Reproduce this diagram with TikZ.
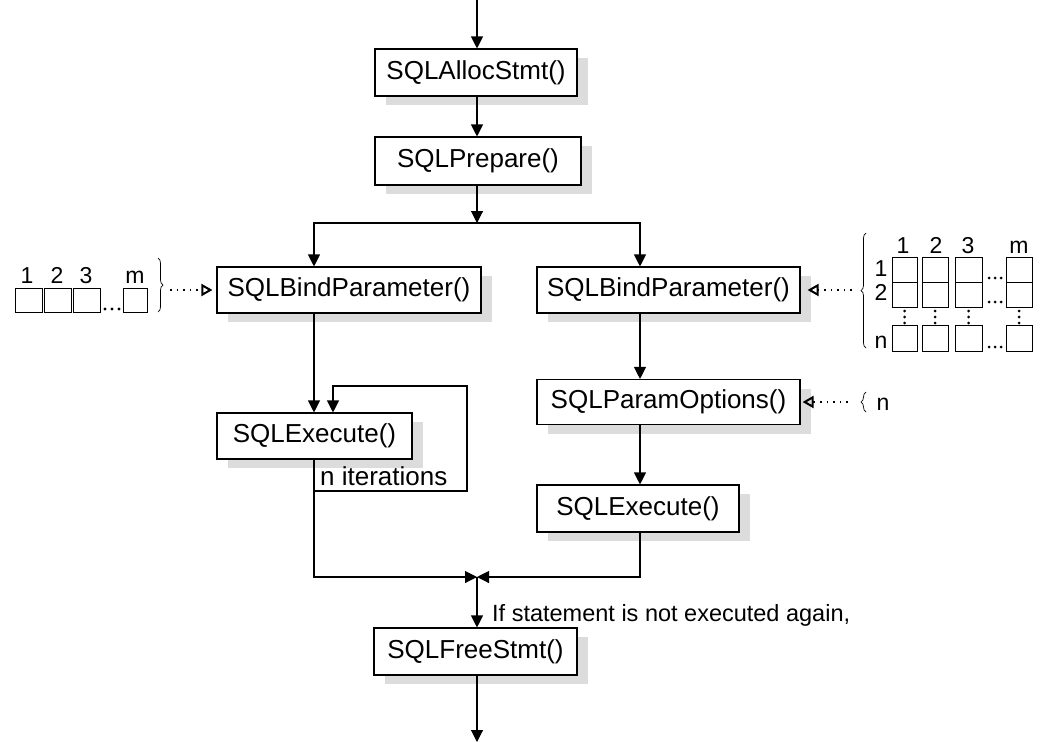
\documentclass[tikz,border=0pt]{standalone}
\usepackage{fontspec}
\setmainfont{Liberation Sans}
\usetikzlibrary{arrows.meta,shadows,decorations.pathreplacing}
\definecolor{shgray}{RGB}{220,220,220}
\newcommand\bigfs{\fontsize{26}{30}\selectfont}
\newcommand\midfs{\fontsize{23.5}{28}\selectfont}
\newcommand\smallfs{\fontsize{23}{27}\selectfont}
\begin{document}
\begin{tikzpicture}[x=1pt,y=1pt,
  box/.style={draw, line width=1.1pt, fill=white, inner sep=0pt, font=\bigfs,
    drop shadow={shadow xshift=11pt, shadow yshift=-9pt, opacity=1, fill=shgray}},
  arr/.style={line width=1.1pt, -{Triangle[length=12pt,width=12pt]}},
  darr/.style={line width=1.4pt, dash pattern=on 1.6pt off 5pt,
    -{Triangle[open,length=11pt,width=12pt,line width=2pt]}},
  cell/.style={draw, line width=0.8pt},
  lab/.style={font=\smallfs, inner sep=0pt, anchor=base},
  brc/.style={decorate, decoration={brace, amplitude=5pt}, line width=0.7pt},
  dot/.style={fill=black}
]
\useasboundingbox (0,0) rectangle (1045,-742);

% boxes
\node[box, minimum width=202pt, minimum height=47pt] (alloc) at (476,-72.5) {SQLAllocStmt()};
\node[box, minimum width=206pt, minimum height=48pt] (prep) at (478,-161) {SQLPrepare()};
\node[box, minimum width=264pt, minimum height=46pt] (bindL) at (349,-290) {SQLBindParameter()};
\node[box, minimum width=263pt, minimum height=46pt] (bindR) at (668.5,-290) {SQLBindParameter()};
\node[box, minimum width=195pt, minimum height=46pt] (execL) at (314.5,-436) {SQLExecute()};
\node[box, minimum width=263pt, minimum height=45pt] (param) at (668.5,-402) {SQLParamOptions()};
\node[box, minimum width=202pt, minimum height=47pt] (execR) at (638,-508.5) {SQLExecute()};
\node[box, minimum width=203pt, minimum height=47pt] (free) at (475.5,-651.5) {SQLFreeStmt()};

% coordinates
\coordinate (top) at (477,0);
\coordinate (split) at (477,-223);
\coordinate (colL) at (314,-223);
\coordinate (colR) at (640,-223);
\coordinate (loopA) at (314,-491);
\coordinate (loopB) at (467,-386);
\coordinate (loopC) at (333,-386);
\coordinate (merge) at (477,-577);
\coordinate (bottom) at (477,-742);

% main flow
\draw[arr] (top) -- (top |- alloc.north);
\draw[arr] (alloc.south -| top) -- (prep.north -| top);
\draw[arr] (prep.south -| top) -- (split);
\draw[arr] (split) -| (bindL.north -| colL);
\draw[arr] (split) -| (bindR.north -| colR);
\draw[arr] (bindL.south -| colL) -- (execL.north -| colL);
\draw[arr] (loopA) -| (loopB) -| (execL.north -| loopC);
\draw[arr] (execL.south -| colL) |- (merge);
\draw[arr] (bindR.south -| colR) -- (param.north -| colR);
\draw[arr] (param.south -| colR) -- (execR.north -| colR);
\draw[arr] (execR.south -| colR) |- (merge);
\draw[arr] (merge) -- (free.north -| merge);
\draw[arr] (free.south -| merge) -- (bottom);

\node[font=\bigfs, inner sep=0pt, anchor=base west] (iter) at (320,-485) {n iterations};
\node[font=\midfs, inner sep=0pt, anchor=base west] (cond) at (492,-621) {If statement is not executed again,};

% left array
\foreach \a/\b in {15/42, 44/71, 73/100, 123/147} {
  \draw[cell] (\a,-288) rectangle (\b,-312);
}
\foreach \x in {105,112,119} { \fill[dot] (\x,-309) circle (1.6pt); }
\node[lab] (l1) at (27,-283) {1};
\node[lab] (l2) at (57,-283) {2};
\node[lab] (l3) at (86,-283) {3};
\node[lab] (lm) at (135,-283) {m};
\draw[brc] (158,-258) -- (158,-312);
\coordinate (lsrc) at (170,-290);
\draw[darr, shorten >=4pt] (lsrc) -- (bindL.west);

% right matrix
\foreach \a/\b in {892/917, 922/948, 955/982, 1006/1032} {
  \draw[cell] (\a,-257) rectangle (\b,-307);
  \draw[cell] (\a,-282) -- (\b,-282);
  \draw[cell] (\a,-325) rectangle (\b,-351);
  \pgfmathsetmacro\cx{(\a+\b)/2}
  \foreach \y in {311,317,323} { \fill[dot] (\cx,-\y) circle (1.5pt); }
}
\foreach \y in {278,302,347} {
  \foreach \x in {989,995,1001} { \fill[dot] (\x,-\y) circle (1.5pt); }
}
\node[lab] (c1) at (903,-253) {1};
\node[lab] (c2) at (936,-253) {2};
\node[lab] (c3) at (968,-253) {3};
\node[lab] (cm) at (1019,-253) {m};
\node[lab] (r1) at (881,-276) {1};
\node[lab] (r2) at (881,-300) {2};
\node[lab] (rn) at (881,-348) {n};
\draw[brc] (866,-348) -- (866,-233);
\coordinate (rsrc) at (852,-290);
\draw[darr, shorten >=7pt] (rsrc) -- (bindR.east);

% param options n
\draw[brc] (866,-412) -- (866,-392);
\node[lab] (pn) at (883,-410) {n};
\coordinate (psrc) at (848,-402);
\draw[darr, shorten >=2pt] (psrc) -- (param.east);
\end{tikzpicture}
\end{document}
